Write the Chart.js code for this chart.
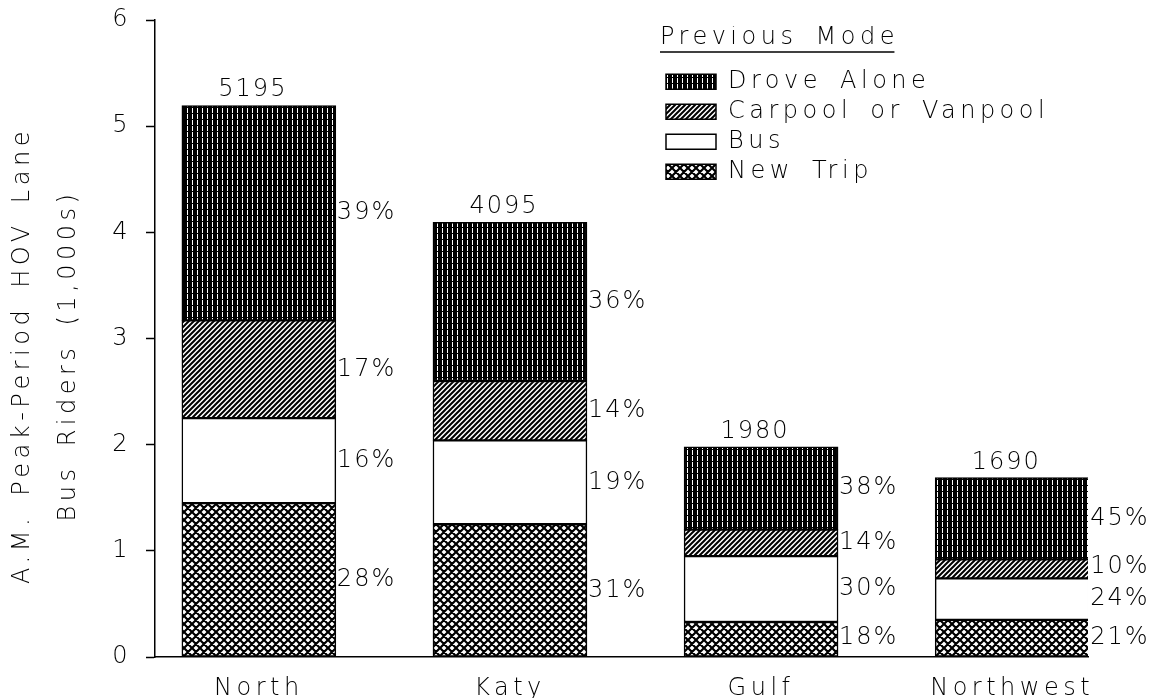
<!DOCTYPE html>
<html><head><meta charset="utf-8">
<script src="https://cdn.jsdelivr.net/npm/chart.js@4.4.1/dist/chart.umd.min.js"></script>
<style>html,body{margin:0;padding:0;background:#fff;} canvas{display:block;}</style>
</head><body>
<canvas id="c" width="1149" height="698"></canvas>
<script>
// ---- data ----
const categories = ['North', 'Katy', 'Gulf', 'Northwest'];
const seriesNames = ['New Trip', 'Bus', 'Carpool or Vanpool', 'Drove Alone'];
const newTrip    = [1.45, 1.25, 0.33, 0.35];
const bus        = [0.80, 0.79, 0.62, 0.39];
const carpool    = [0.92, 0.56, 0.25, 0.18];
const droveAlone = [2.025, 1.495, 0.78, 0.77];
const pctNewTrip    = [28, 31, 18, 21];
const pctBus        = [16, 19, 30, 24];
const pctCarpool    = [17, 14, 14, 10];
const pctDroveAlone = [39, 36, 38, 45];
const totals = [5195, 4095, 1980, 1690];
const yTicks = [0, 1, 2, 3, 4, 5, 6];
const yTitle = ['A.M. Peak-Period HOV Lane', 'Bus Riders (1,000s)'];
const legendTitle = 'Previous Mode';

// ---- styling ----
const FAMILY = "'DejaVu Sans', sans-serif";
const WEIGHT = '200';
const FS = 24;
const LSPX = 4.5;
const LS = LSPX + 'px';
const WS = '6px';
const NUM_LS = '2px';
const FONT = { family: FAMILY, size: FS, weight: WEIGHT };
const FONT_STR = WEIGHT + ' ' + FS + 'px ' + FAMILY;
const canvas = document.getElementById('c');
const mainCtx = canvas.getContext('2d');

function makePattern(w, h, draw) {
  const c = document.createElement('canvas'); c.width = w; c.height = h;
  const g = c.getContext('2d'); draw(g, w, h);
  return mainCtx.createPattern(c, 'repeat');
}
const droveFill = makePattern(5, 6, (g, w, h) => {
  g.fillStyle = '#000'; g.fillRect(0, 0, w, h);
  g.fillStyle = '#fff'; g.fillRect(2, 0, 1, 5);
});
const carpoolFill = makePattern(5, 5, (g, s) => {
  g.fillStyle = '#fff'; g.fillRect(0, 0, s, s);
  g.strokeStyle = '#000'; g.lineWidth = 2; g.beginPath();
  for (let k = -1; k <= 1; k++) { g.moveTo(k * s - 2, s + 2); g.lineTo(k * s + s + 2, -2); }
  g.stroke();
});
const newTripFill = makePattern(8, 8, (g, s) => {
  g.fillStyle = '#fff'; g.fillRect(0, 0, s, s);
  g.strokeStyle = '#000'; g.lineWidth = 2.2; g.beginPath();
  for (let k = -1; k <= 1; k++) {
    g.moveTo(k * s - 2, s + 2); g.lineTo(k * s + s + 2, -2);
    g.moveTo(k * s - 2, -2); g.lineTo(k * s + s + 2, s + 2);
  }
  g.stroke();
});
const busFill = '#ffffff';

const seriesValues = [newTrip, bus, carpool, droveAlone];
const seriesFills = [newTripFill, busFill, carpoolFill, droveFill];
const seriesPcts = [pctNewTrip, pctBus, pctCarpool, pctDroveAlone];

const datasets = seriesNames.map((name, d) => ({
  label: name,
  data: seriesValues[d].map((v, i) => ({ x: i, y: v })),
  backgroundColor: seriesFills[d],
  borderColor: '#000',
  borderWidth: 1.5,
  borderSkipped: false,
  barThickness: 154
}));

function setSpacing(ctx) { ctx.letterSpacing = LS; ctx.wordSpacing = WS; }

const spacingPlugin = {
  id: 'spacing',
  beforeUpdate(chart) { setSpacing(chart.ctx); },
  beforeLayout(chart) { setSpacing(chart.ctx); },
  afterLayout(chart) {
    const s = chart.scales.y;
    if (s && !s._titleShifted) {
      const orig = s.drawTitle.bind(s);
      s.drawTitle = function () { const c = this.ctx; c.save(); c.translate(0, 17); orig(); c.restore(); };
      s._titleShifted = true;
    }
  },
  beforeDraw(chart) {
    const ctx = chart.ctx; setSpacing(ctx);
    ctx.save(); ctx.fillStyle = '#fff'; ctx.fillRect(0, 0, chart.width, chart.height); ctx.restore();
  }
};

const legendPlacePlugin = {
  id: 'legendPlace',
  afterLayout(chart) {
    const lg = chart.legend; if (!lg) return;
    const w = lg.width, h = lg.height;
    lg.left = 660; lg.top = 26; lg.right = lg.left + w; lg.bottom = lg.top + h;
  },
  afterDraw(chart) {
    const lg = chart.legend; const ctx = chart.ctx;
    ctx.save();
    ctx.font = FONT_STR; setSpacing(ctx);
    const w = ctx.measureText(legendTitle).width - LSPX;
    ctx.strokeStyle = '#000'; ctx.lineWidth = 1.5;
    ctx.beginPath(); ctx.moveTo(lg.left, lg.top + 26); ctx.lineTo(lg.left + w, lg.top + 26); ctx.stroke();
    ctx.restore();
  }
};

const labelPlugin = {
  id: 'segLabels',
  afterDatasetsDraw(chart) {
    const ctx = chart.ctx; ctx.save();
    ctx.font = FONT_STR; ctx.fillStyle = '#000'; ctx.letterSpacing = NUM_LS;
    const bottom = chart.chartArea.bottom;
    categories.forEach((_, i) => {
      let prev = null;
      seriesPcts.forEach((arr, d) => {
        const el = chart.getDatasetMeta(d).data[i];
        let y = (el.y + el.base) / 2;
        y = prev === null ? Math.min(y, bottom - 19) : Math.min(y, prev - 32);
        prev = y;
        ctx.textAlign = 'left'; ctx.textBaseline = 'middle';
        ctx.fillText(arr[i] + '%', el.x + el.width / 2 + 1, y);
      });
      const topEl = chart.getDatasetMeta(seriesPcts.length - 1).data[i];
      ctx.textAlign = 'center'; ctx.textBaseline = 'alphabetic';
      ctx.fillText(String(totals[i]), topEl.x - 6, topEl.y - 9);
    });
    ctx.restore();
  }
};

new Chart(canvas, {
  type: 'bar',
  data: { datasets },
  options: {
    responsive: false,
    animation: false,
    devicePixelRatio: 1,
    events: [],
    layout: { padding: { top: 20, right: 61, bottom: 0, left: 0 } },
    plugins: {
      tooltip: { enabled: false },
      legend: {
        position: 'chartArea',
        align: 'start',
        reverse: true,
        title: { display: true, text: legendTitle, position: 'start', color: '#000', font: FONT, padding: { top: 0, bottom: 9 } },
        labels: { boxWidth: 50, boxHeight: 15, padding: 6, color: '#000', font: FONT }
      }
    },
    scales: {
      x: {
        type: 'linear', stacked: true, offset: false, min: -0.4136, max: 3.302,
        afterBuildTicks: s => { s.ticks = categories.map((_, i) => ({ value: i })); },
        afterFit: s => { s.height = 41; s.paddingLeft = 0; s.paddingRight = 0; },
        ticks: { callback: v => categories[v], color: '#000', font: FONT, padding: 17, maxRotation: 0, autoSkip: false },
        grid: { display: true, offset: false, drawOnChartArea: false, drawTicks: false },
        border: { color: '#000', width: 1.5 }
      },
      y: {
        stacked: true, min: 0, max: 6,
        afterBuildTicks: s => { s.ticks = yTicks.map(v => ({ value: v })); },
        afterFit: s => { s.width = 155; s.paddingTop = 0; s.paddingBottom = 0; },
        ticks: { color: '#000', font: FONT, padding: 14 },
        grid: { drawOnChartArea: false, tickLength: 9, tickColor: '#000', tickWidth: 1.5 },
        border: { color: '#000', width: 1.5 },
        title: { display: true, text: yTitle, color: '#000', font: { family: FAMILY, size: FS, weight: WEIGHT, lineHeight: 46 / FS }, padding: { top: 0, bottom: 0 } }
      }
    }
  },
  plugins: [spacingPlugin, legendPlacePlugin, labelPlugin]
});
</script>
</body></html>
